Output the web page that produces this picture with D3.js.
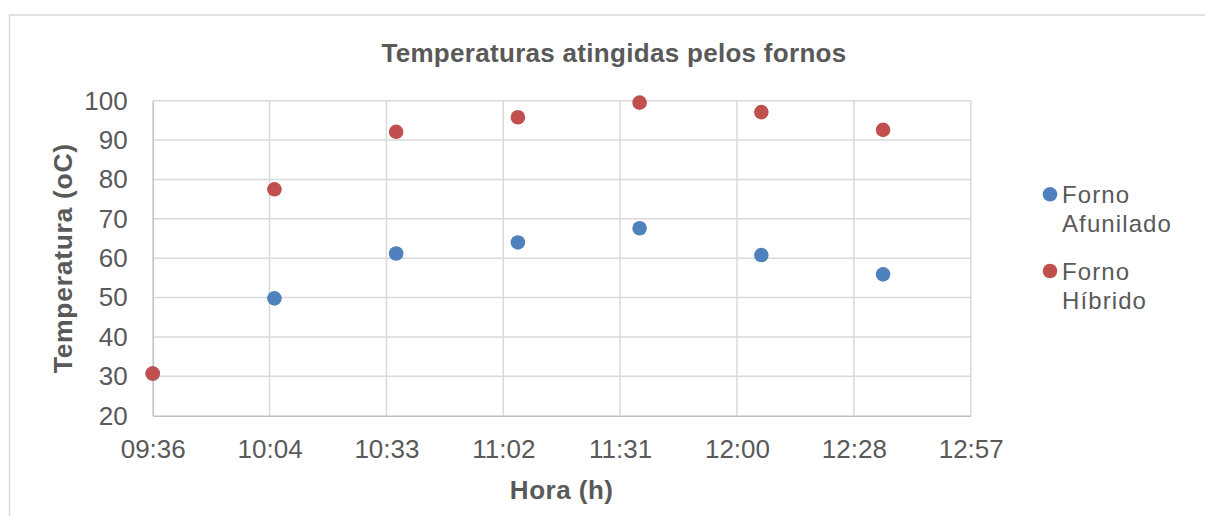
<!DOCTYPE html>
<html>
<head>
<meta charset="utf-8">
<script src="https://cdn.jsdelivr.net/npm/d3@7"></script>
<style>
  html, body { margin: 0; padding: 0; background: #fff; }
  svg { display: block; }
  text { font-family: "Liberation Sans", Arial, sans-serif; fill: #595959; }
</style>
</head>
<body>
<svg id="chart" width="1205" height="516"></svg>
<script>
// ---- data ----
const times = ["09:36", "10:06", "10:36", "11:06", "11:36", "12:06", "12:36"];
const fornoAfunilado = [30.7, 49.8, 61.2, 64.0, 67.6, 60.8, 55.9];
const fornoHibrido   = [30.7, 77.5, 92.1, 95.8, 99.5, 97.1, 92.6];
const seriesNames = ["Forno Afunilado", "Forno Híbrido"];
const xTickLabels = ["09:36", "10:04", "10:33", "11:02", "11:31", "12:00", "12:28", "12:57"];
const yTicks = [20, 30, 40, 50, 60, 70, 80, 90, 100];
const chartTitle = "Temperaturas atingidas pelos fornos";
const xTitle = "Hora (h)";
const yTitle = "Temperatura (oC)";

// ---- helpers ----
const toMin = s => { const [h, m] = s.split(":").map(Number); return h * 60 + m; };
// Excel date axis: 0.40 to 0.54 day, major unit 0.02 day (28.8 min)
const xMinMin = 0.40 * 1440, xMaxMin = 0.54 * 1440;
const tickMins = xTickLabels.map((_, i) => (0.40 + 0.02 * i) * 1440);

const svg = d3.select("#chart");
const colors = ["#4f81bd", "#c0504d"];

const plot = { left: 152.7, right: 970.7, top: 100.7, bottom: 415.7 };
const x = d3.scaleLinear().domain([xMinMin, xMaxMin]).range([plot.left, plot.right]);
const y = d3.scaleLinear().domain([20, 100]).range([plot.bottom, plot.top]);

// chart border (partially visible)
svg.append("path")
  .attr("d", "M9.5,516 L9.5,15 L1205,15")
  .attr("fill", "none").attr("stroke", "#d9d9d9").attr("stroke-width", 1.5);

// gridlines
const g = svg.append("g");
g.selectAll("line.hg").data(yTicks.filter(v => v > 20)).enter().append("line")
  .attr("x1", plot.left).attr("x2", plot.right)
  .attr("y1", d => y(d)).attr("y2", d => y(d))
  .attr("stroke", "#d9d9d9").attr("stroke-width", 1.5);
g.selectAll("line.vg").data(tickMins.slice(1)).enter().append("line")
  .attr("x1", d => x(d)).attr("x2", d => x(d))
  .attr("y1", plot.top).attr("y2", plot.bottom)
  .attr("stroke", "#d9d9d9").attr("stroke-width", 1.5);

// axes
const xAxis = d3.axisBottom(x).tickValues(tickMins).tickSize(0).tickPadding(24)
  .tickFormat((d, i) => xTickLabels[i]);
const yAxis = d3.axisLeft(y).tickValues(yTicks).tickSize(0).tickPadding(25)
  .tickFormat(d3.format("d"));

const gx = svg.append("g").attr("transform", `translate(0,${plot.bottom})`).call(xAxis);
gx.select(".domain").attr("stroke", "#bfbfbf").attr("stroke-width", 1.5);
gx.selectAll("text").attr("font-size", 26).attr("fill", "#595959").style("font-family", "'Liberation Sans', Arial, sans-serif");

const gy = svg.append("g").attr("transform", `translate(${plot.left},0)`).call(yAxis);
gy.select(".domain").attr("stroke", "#bfbfbf").attr("stroke-width", 1.5);
gy.selectAll("text").attr("font-size", 26).attr("fill", "#595959").style("font-family", "'Liberation Sans', Arial, sans-serif");

// points
[fornoAfunilado, fornoHibrido].forEach((vals, si) => {
  svg.append("g").selectAll("circle").data(vals).enter().append("circle")
    .attr("cx", (d, i) => x(toMin(times[i])))
    .attr("cy", d => y(d))
    .attr("r", 7.3)
    .attr("fill", colors[si]);
});

// title
svg.append("text").attr("x", 614).attr("y", 61.5).attr("text-anchor", "middle")
  .attr("font-size", 26).attr("letter-spacing", 0.3).attr("font-weight", "bold").text(chartTitle);

// axis titles
svg.append("text").attr("x", (plot.left + plot.right) / 2).attr("y", 499)
  .attr("text-anchor", "middle").attr("font-size", 26).attr("letter-spacing", 0.5)
  .attr("font-weight", "bold").text(xTitle);
svg.append("text")
  .attr("transform", `translate(71.5,${(plot.top + plot.bottom) / 2}) rotate(-90)`)
  .attr("text-anchor", "middle").attr("font-size", 26.5).attr("letter-spacing", 0.7)
  .attr("font-weight", "bold").text(yTitle);

// legend
const legendY = [194.3, 271];
seriesNames.forEach((name, i) => {
  const lg = svg.append("g");
  lg.append("circle").attr("cx", 1050).attr("cy", legendY[i]).attr("r", 7.3).attr("fill", colors[i]);
  const words = name.split(" ");
  const t = lg.append("text").attr("font-size", 24).attr("letter-spacing", 1.1);
  t.append("tspan").attr("x", 1062).attr("y", legendY[i] + 9).text(words[0]);
  t.append("tspan").attr("x", 1062).attr("y", legendY[i] + 38).text(words.slice(1).join(" "));
});
</script>
</body>
</html>
